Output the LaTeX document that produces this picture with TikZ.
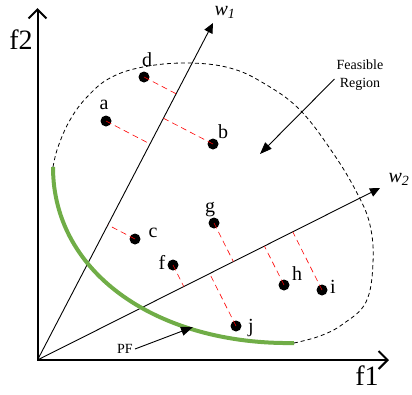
\documentclass[tikz,border=0pt]{standalone}
\usepackage{fontspec}
\setmainfont{Liberation Serif}
\usepackage{xcolor}
\usepackage{tikz}
\usetikzlibrary{arrows.meta,positioning,calc}
\definecolor{pfgreen}{RGB}{112,173,71}

\begin{document}
\begin{tikzpicture}[x=1pt,y=-1pt,
        pt/.style={circle,fill=black,inner sep=0pt,minimum size=11pt},
        lbl/.style={font=\fontsize{20}{22}\selectfont,inner sep=0pt},
        proj/.style={red,dash pattern=on 6pt off 4pt,line width=0.6pt},
        weight/.style={-{Triangle[length=10pt,width=9pt]},line width=0.9pt},
        note/.style={-{Triangle[length=12pt,width=9pt]},line width=0.9pt}]
    \useasboundingbox (0,0) rectangle (412,394);
    % axes
    \coordinate (O) at (37.5,360);
    \coordinate (f2end) at (37.5,8);
    \coordinate (f1end) at (389,360);
    \draw[{Straight Barb[length=9pt,width=18pt]}-{Straight Barb[length=9pt,width=18pt]},line width=2pt]
        (f2end) -- (O) -- (f1end);
    \node[font=\fontsize{28}{30}\selectfont,inner sep=0pt] (lf2) at (21,40) {f2};
    \node[font=\fontsize{28}{30}\selectfont,inner sep=0pt] (lf1) at (367,376) {f1};
    % weight vectors
    \coordinate (w1end) at (213,23);
    \coordinate (w2end) at (380,188);
    \draw[weight] (O) -- (w1end);
    \draw[weight] (O) -- (w2end);
    \node[lbl] (lw1) at (225,12) {\textit{w}\textsubscript{\textit{1}}};
    \node[lbl] (lw2) at (399,179) {\textit{w}\textsubscript{\textit{2}}};
    % feasible region and PF
    \coordinate (pfa) at (53,167);
    \coordinate (pfb) at (294,343);
    \draw[line width=0.8pt,dash pattern=on 4pt off 3pt] plot[smooth,tension=0.65] coordinates {
        (53,167) (58,147) (70,120) (87,97) (110,78) (143,67) (187,63) (230,68)
        (265,84) (300,110) (333,153) (357,193) (370,225) (373,263) (366,302)
        (343,324) (320,336) (294,343)};
    \draw[pfgreen,line width=4pt] (pfa) .. controls (53,275) and (160,345) .. (pfb);
    % solutions
    \node[pt] (a) at (106,121) {};
    \node[pt] (b) at (213,144) {};
    \node[pt] (c) at (135,239) {};
    \node[pt] (d) at (144,77) {};
    \node[pt] (f) at (173,265) {};
    \node[pt] (g) at (214,223) {};
    \node[pt] (h) at (284,285) {};
    \node[pt] (i) at (322,290) {};
    \node[pt] (j) at (236,326) {};
    \foreach \s in {a,b,c,d}
        \draw[proj] (\s.center) -- ($(O)!(\s)!(w1end)$);
    \foreach \s in {f,g,h,i,j}
        \draw[proj] (\s.center) -- ($(O)!(\s)!(w2end)$);
    \node[lbl] (la) at (104,105) {a};
    \node[lbl] (lb) at (223,132) {b};
    \node[lbl] (lc) at (153,233) {c};
    \node[lbl] (ld) at (147,60) {d};
    \node[lbl] (lf) at (162,262) {f};
    \node[lbl] (lg) at (210,210) {g};
    \node[lbl] (lh) at (297,274) {h};
    \node[lbl] (li) at (333,287) {i};
    \node[lbl] (lj) at (251,328) {j};
    % annotations
    \node[font=\fontsize{14}{18}\selectfont,align=center,inner sep=0pt] (fr) at (360,75) {Feasible\\Region};
    \coordinate (frtip) at (260,154);
    \draw[note] ($(fr.west)+(-2,4)$) -- (frtip);
    \node[font=\fontsize{14}{16}\selectfont,inner sep=0pt] (pf) at (125,349) {PF};
    \coordinate (pftip) at (193,327);
    \draw[note] ($(pf.east)+(2,0)$) -- (pftip);
\end{tikzpicture}
\end{document}
